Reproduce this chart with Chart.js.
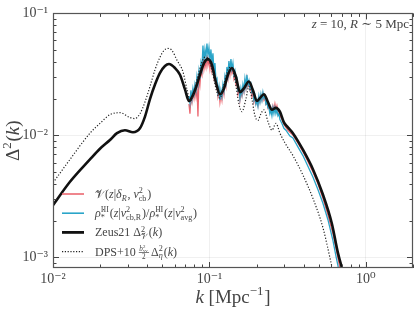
<!DOCTYPE html>
<html><head><meta charset="utf-8">
<script src="https://cdn.jsdelivr.net/npm/chart.js@4"></script>
<style>html,body{margin:0;padding:0;background:#fff;}canvas{display:block}</style>
</head><body>
<canvas id="c" width="416" height="311"></canvas>
<script>
// ---- data ----
const kZeus = [0.0100,0.01284,0.01723,0.01996,0.02312,0.02564,0.02884,0.03245,0.03596,0.03872,0.04167,0.04486,0.04829,0.05196,0.05510,0.06020,0.06480,0.06976,0.07396,0.07731,0.08078,0.08695,0.09225,0.09781,0.10375,0.11003,0.11670,0.12379,0.13128,0.13924,0.14764,0.15659,0.16607,0.17884,0.18967,0.20112,0.21022,0.22293,0.23644,0.25083,0.26598,0.28215,0.29923,0.31739,0.34163,0.39573,0.45846,0.53114,0.60630,0.66252,0.71285];
const zeusPower = [2.68e-3,4.17e-3,6.36e-3,7.78e-3,9.18e-3,1.044e-2,1.103e-2,1.063e-2,1.145e-2,1.427e-2,1.986e-2,2.616e-2,3.26e-2,3.71e-2,3.85e-2,3.57e-2,3.14e-2,2.385e-2,1.914e-2,2.06e-2,2.343e-2,3.14e-2,3.92e-2,4.22e-2,3.78e-2,2.713e-2,2.177e-2,2.43e-2,3.14e-2,3.57e-2,3.03e-2,2.258e-2,2.43e-2,2.764e-2,2.343e-2,1.914e-2,2.022e-2,2.177e-2,1.879e-2,1.622e-2,1.683e-2,1.564e-2,1.278e-2,1.166e-2,1.044e-2,7.64e-3,5.29e-3,3.28e-3,1.891e-3,1.09e-3,7.69e-4];

const kDps = [0.0100,0.01284,0.01723,0.01996,0.02312,0.02680,0.03105,0.03342,0.03596,0.03872,0.04167,0.04486,0.04829,0.05121,0.05429,0.05759,0.06198,0.06771,0.07182,0.07506,0.07845,0.08319,0.08825,0.09359,0.09927,0.10529,0.11166,0.11670,0.12379,0.13128,0.13720,0.14549,0.15431,0.16131,0.17104,0.17884,0.18689,0.19530,0.20412,0.21335,0.22293,0.23644,0.25083,0.26598,0.28215,0.30367,0.34163,0.39573,0.45846,0.53114,0.60630,0.6336];
const dpsPower = [4.09e-3,6.36e-3,1.044e-2,1.255e-2,1.480e-2,1.536e-2,1.401e-2,1.375e-2,1.508e-2,1.879e-2,2.52e-2,3.45e-2,4.38e-2,4.97e-2,5.16e-2,4.97e-2,4.14e-2,3.32e-2,2.385e-2,1.914e-2,2.099e-2,2.868e-2,3.78e-2,4.38e-2,4.14e-2,3.14e-2,2.258e-2,2.022e-2,2.616e-2,3.45e-2,3.64e-2,2.868e-2,1.811e-2,1.564e-2,1.986e-2,2.52e-2,1.986e-2,1.453e-2,1.326e-2,1.508e-2,1.622e-2,1.302e-2,1.103e-2,1.255e-2,1.044e-2,8.69e-3,6.84e-3,4.74e-3,3.05e-3,1.757e-3,8.43e-4,6.64e-4];

const kNoisy = [0.07396,0.07506,0.07617,0.07730,0.07845,0.07961,0.08078,0.08198,0.08319,0.08443,0.08568,0.08695,0.08824,0.08954,0.09087,0.09222,0.09358,0.09497,0.09638,0.09781,0.09926,0.10073,0.10222,0.10373,0.10527,0.10683,0.10841,0.11002,0.11165,0.11330,0.11498,0.11668,
0.11841,0.12017,0.12195,0.12376,0.12559,0.12746,0.12935,0.13127,0.13321,0.13519,0.13719,0.13922,0.14129,0.14339,0.14551,0.14766,0.14985,0.15208,0.15432,0.15661,0.15893,0.16129,0.16368,0.16611,0.16857,0.17107,0.17361,0.17618,0.17879,0.18144,0.18413,0.18686,0.18963,0.19244,0.19530,0.19819,0.20113,0.20411,0.20714,0.21021,0.21332,0.21649,0.21970,0.22295,0.22626,0.22961,0.23302,0.23647,0.23997,0.24353,0.24714,0.25080,0.25452,0.25829,0.26212,0.26601,0.26995,0.27395,0.27801,
0.28213,0.29056,0.29923,0.30817,0.31737,0.32685,
0.34163,0.36757,0.39573,0.42590,0.45846,0.49344,0.53114,0.57170,0.61537,0.64315,0.66252,0.68239,0.70253];

const rhoPower = [0.02098,0.01845,0.02343,0.01986,0.02431,0.02177,0.02616,0.02343,0.03030,0.02616,0.03383,0.02921,0.03919,0.03510,0.05453,0.04065,0.05067,0.04375,0.05657,0.04539,0.05256,0.04141,0.05067,0.03919,0.04708,0.03383,0.03919,0.02815,0.02921,0.02258,0.02522,0.01950,
0.02343,0.02098,0.02616,0.02343,0.03030,0.02714,0.03641,0.03144,0.04065,0.03383,0.04217,0.03510,0.03919,0.03144,0.03383,0.02815,0.02921,0.02343,0.02431,0.02022,0.02431,0.02177,0.02616,0.02343,0.02921,0.02522,0.03144,0.02616,0.02815,0.02431,0.02616,0.02258,0.02343,0.01950,0.02098,0.01811,0.01950,0.01746,0.02098,0.01879,0.02177,0.01950,0.02258,0.02022,0.02098,0.01811,0.01879,0.01683,0.01683,0.01508,0.01622,0.01453,0.01683,0.01508,0.01683,0.01508,0.01622,0.01453,0.01508,
0.01350,0.01255,0.01145,0.01103,0.01044,0.00988,
0.00953,0.00807,0.00684,0.00559,0.00457,0.00360,0.00278,0.00204,0.00138,0.00103,0.000859,0.000689,0.000573];

const vPower = [0.01811,0.01508,0.02098,0.01879,0.02258,0.02022,0.02431,0.02098,0.02616,0.01427,0.03030,0.02616,0.03383,0.03144,0.04375,0.03510,0.04065,0.03641,0.04539,0.03777,0.04217,0.03510,0.04065,0.03383,0.03777,0.03030,0.03383,0.02616,0.02616,0.02098,0.02343,0.01879,
0.02177,0.01950,0.02431,0.02177,0.02815,0.02522,0.03261,0.02921,0.03641,0.03144,0.03777,0.03261,0.03510,0.02921,0.03144,0.02616,0.02714,0.02177,0.02343,0.01950,0.02258,0.02098,0.02431,0.02258,0.02714,0.02431,0.02921,0.02522,0.02616,0.02343,0.02431,0.02098,0.02258,0.01879,0.02022,0.01811,0.01879,0.01746,0.02022,0.01879,0.02098,0.01950,0.02177,0.01950,0.02022,0.01811,0.01879,0.01683,0.01746,0.01564,0.01683,0.01564,0.01746,0.01622,0.01811,0.01622,0.01746,0.01564,0.01564,
0.01453,0.01350,0.01232,0.01166,0.01103,0.01063,
0.01006,0.00869,0.00737,0.00613,0.00501,0.00402,0.00305,0.00223,0.00157,0.00120,0.000995,0.000813,0.000664];

const xTicks = [0.01, 0.1, 1];
const xTickLabels = ['10\u207B\u00B2', '10\u207B\u00B9', '10\u2070'];
const yTicks = [0.001, 0.01, 0.1];
const yTickLabels = ['10\u207B\u00B3', '10\u207B\u00B2', '10\u207B\u00B9'];
const xMin = 0.01, xMax = 2.0, yMin = 8.2e-4, yMax = 0.1;

// ---- helpers ----
const FAM = '"Liberation Serif", "DejaVu Serif", serif';
const RED = '#ec6871', CYAN = '#2aa5c9', TXT = '#444';
function setFont(ctx, size, it){ ctx.font = (it ? 'italic ' : '') + size + 'px ' + FAM; }
function rich(ctx, segs, size, x0, y0, draw){
  let x = x0;
  for (const s of segs){
    if (s.frac){
      const fs = size*0.6;
      const numW = rich(ctx, s.num, fs, 0, 0, false);
      setFont(ctx, fs, false); const denW = ctx.measureText(s.den).width;
      const w = Math.max(numW, denW) + 1;
      if (draw){
        rich(ctx, s.num, fs, x + (w-numW)/2, y0 - size*0.42, true);
        setFont(ctx, fs, false); ctx.fillText(s.den, x + (w-denW)/2, y0 + size*0.28);
        ctx.fillRect(x, y0 - size*0.3, w, 0.7);
      }
      x += w + 2; continue;
    }
    if (s.sup !== undefined || s.sub !== undefined){
      const fs = size*0.68; let w1 = 0, w2 = 0;
      if (s.sup){ setFont(ctx, fs, !!s.supIt); w1 = ctx.measureText(s.sup).width; if (draw) ctx.fillText(s.sup, x, y0 - size*0.4); }
      if (s.sub){ setFont(ctx, fs, !!s.subIt); w2 = ctx.measureText(s.sub).width; if (draw) ctx.fillText(s.sub, x, y0 + size*0.22); }
      x += Math.max(w1, w2) + 0.8; continue;
    }
    setFont(ctx, size, !!s.it);
    const w = ctx.measureText(s.t).width;
    if (draw) ctx.fillText(s.t, x, y0);
    x += w;
  }
  return x - x0;
}

const legendItems = [
  {color: RED, width: 1.6, dash: [], segs: [{t:'\uD835\uDCB1'},{t:'('},{t:'z',it:1},{t:'|'},{t:'\u03B4',it:1},{sub:'R',subIt:1},{t:', '},{t:'v',it:1},{sup:'2',sub:'cb'},{t:')'}]},
  {color: CYAN, width: 1.6, dash: [], segs: [{t:'\u03C1\u0307',it:1},{sup:'III',sub:'*'},{t:'('},{t:'z',it:1},{t:'|'},{t:'v',it:1},{sup:'2',sub:'cb,R'},{t:')/'},{t:'\u03C1\u0307',it:1},{sup:'III',sub:'*'},{t:'('},{t:'z',it:1},{t:'|'},{t:'v',it:1},{sup:'2',sub:'avg'},{t:')'}]},
  {color: '#111', width: 2.8, dash: [], segs: [{t:'Zeus21 \u0394'},{sup:'2',sub:'\uD835\uDCB1'},{t:'('},{t:'k',it:1},{t:')'}]},
  {color: '#222', width: 1.2, dash: [1.2,1.6], segs: [{t:'DPS+10 '},{frac:true,num:[{t:'b',it:1},{sup:'2',sub:'vv'}],den:'2'},{t:'\u0394'},{sup:'2',sub:'\u03B7',subIt:1},{t:'('},{t:'k',it:1},{t:')'}]}
];

const decorPlugin = {
  id: 'decor',
  afterDatasetsDraw(chart){
    const {ctx, chartArea: a, scales: {x, y}} = chart;
    ctx.save();
    ctx.strokeStyle = '#444'; ctx.lineWidth = 1;
    ctx.beginPath();
    for (let d = -2; d <= 0; d++) for (let m = 1; m <= 9; m++){
      const v = m * Math.pow(10, d); if (v < xMin || v > xMax) continue;
      const px = Math.round(x.getPixelForValue(v)) + 0.5; const len = m === 1 ? 6 : 3.5;
      ctx.moveTo(px, a.bottom); ctx.lineTo(px, a.bottom - len);
      ctx.moveTo(px, a.top); ctx.lineTo(px, a.top + len);
    }
    for (let d = -4; d <= -1; d++) for (let m = 1; m <= 9; m++){
      const v = m * Math.pow(10, d); if (v < yMin || v > yMax) continue;
      const py = Math.round(y.getPixelForValue(v)) + 0.5; const len = m === 1 ? 6 : 3.5;
      ctx.moveTo(a.left, py); ctx.lineTo(a.left + len, py);
      ctx.moveTo(a.right, py); ctx.lineTo(a.right - len, py);
    }
    ctx.stroke();
    ctx.strokeStyle = '#555'; ctx.lineWidth = 1.2;
    ctx.strokeRect(Math.round(a.left)+0.5, Math.round(a.top)+0.5, Math.round(a.right - a.left)-1, Math.round(a.bottom - a.top)-1);
    ctx.restore();
  },
  afterDraw(chart){
    const {ctx, chartArea: a} = chart;
    ctx.save();
    ctx.fillStyle = TXT; ctx.textBaseline = 'alphabetic';
    // legend
    legendItems.forEach((it, i) => {
      const cy = 194 + i * 19.2;
      ctx.save(); ctx.strokeStyle = it.color; ctx.lineWidth = it.width; ctx.setLineDash(it.dash);
      ctx.beginPath(); ctx.moveTo(62, cy); ctx.lineTo(84, cy); ctx.stroke(); ctx.restore();
      ctx.fillStyle = TXT;
      rich(ctx, it.segs, 12, 95, cy + 4, true);
    });
    // annotation
    const ann = [{t:'z',it:1},{t:' = 10, '},{t:'R',it:1},{t:' \u223C 5 Mpc'}];
    const aw = rich(ctx, ann, 13, 0, 0, false);
    rich(ctx, ann, 13, 409 - aw, 28, true);
    // x title
    const xt = [{t:'k',it:1},{t:' [Mpc'},{sup:'\u22121'},{t:']'}];
    const xw = rich(ctx, xt, 19, 0, 0, false);
    rich(ctx, xt, 19, (a.left + a.right)/2 - xw/2, 303, true);
    // y title
    const yt = [{t:'\u0394'},{sup:'2'},{t:'('},{t:'k',it:1},{t:')'}];
    const yw = rich(ctx, yt, 19, 0, 0, false);
    ctx.translate(19, (a.top + a.bottom)/2); ctx.rotate(-Math.PI/2);
    rich(ctx, yt, 19, -yw/2, 0, true);
    ctx.restore();
  }
};

function labelFor(ticks, labels){
  return v => { for (let i = 0; i < ticks.length; i++) if (Math.abs(Math.log10(v) - Math.log10(ticks[i])) < 1e-6) return labels[i]; return ''; };
}
const pts = (ks, vs) => ks.map((k, i) => ({x: k, y: vs[i]}));

new Chart(document.getElementById('c'), {
  type: 'line',
  data: { datasets: [
    {label: 'V', data: pts(kNoisy, vPower), borderColor: RED, borderWidth: 1.3, pointRadius: 0, tension: 0, order: 3},
    {label: 'rho', data: pts(kNoisy, rhoPower), borderColor: CYAN, borderWidth: 1.3, pointRadius: 0, tension: 0, order: 2},
    {label: 'Zeus21', data: pts(kZeus, zeusPower), borderColor: '#111', borderWidth: 2.6, pointRadius: 0, cubicInterpolationMode: 'monotone', order: 1},
    {label: 'DPS+10', data: pts(kDps, dpsPower), borderColor: '#222', borderWidth: 1.2, borderDash: [1.2, 1.8], pointRadius: 0, cubicInterpolationMode: 'monotone', order: 0}
  ]},
  options: {
    responsive: false, animation: false, devicePixelRatio: 1,
    layout: {padding: {left: 0, top: 7, right: 3, bottom: 0}},
    plugins: {legend: {display: false}, tooltip: {enabled: false}},
    scales: {
      x: {type: 'logarithmic', min: xMin, max: xMax,
        afterBuildTicks: s => { s.ticks = xTicks.map(v => ({value: v})); },
        afterFit: s => { s.height = 43; },
        ticks: {callback: labelFor(xTicks, xTickLabels), font: {family: FAM, size: 14}, color: TXT, maxRotation: 0, autoSkip: false, padding: 3},
        grid: {color: 'rgba(0,0,0,0.06)', drawTicks: false}, border: {display: false}},
      y: {type: 'logarithmic', min: yMin, max: yMax,
        afterBuildTicks: s => { s.ticks = yTicks.map(v => ({value: v})); },
        afterFit: s => { s.width = 53; },
        ticks: {callback: labelFor(yTicks, yTickLabels), font: {family: FAM, size: 14}, color: TXT, autoSkip: false, padding: 5},
        grid: {color: 'rgba(0,0,0,0.06)', drawTicks: false}, border: {display: false}}
    }
  },
  plugins: [decorPlugin]
});
</script>
</body></html>
